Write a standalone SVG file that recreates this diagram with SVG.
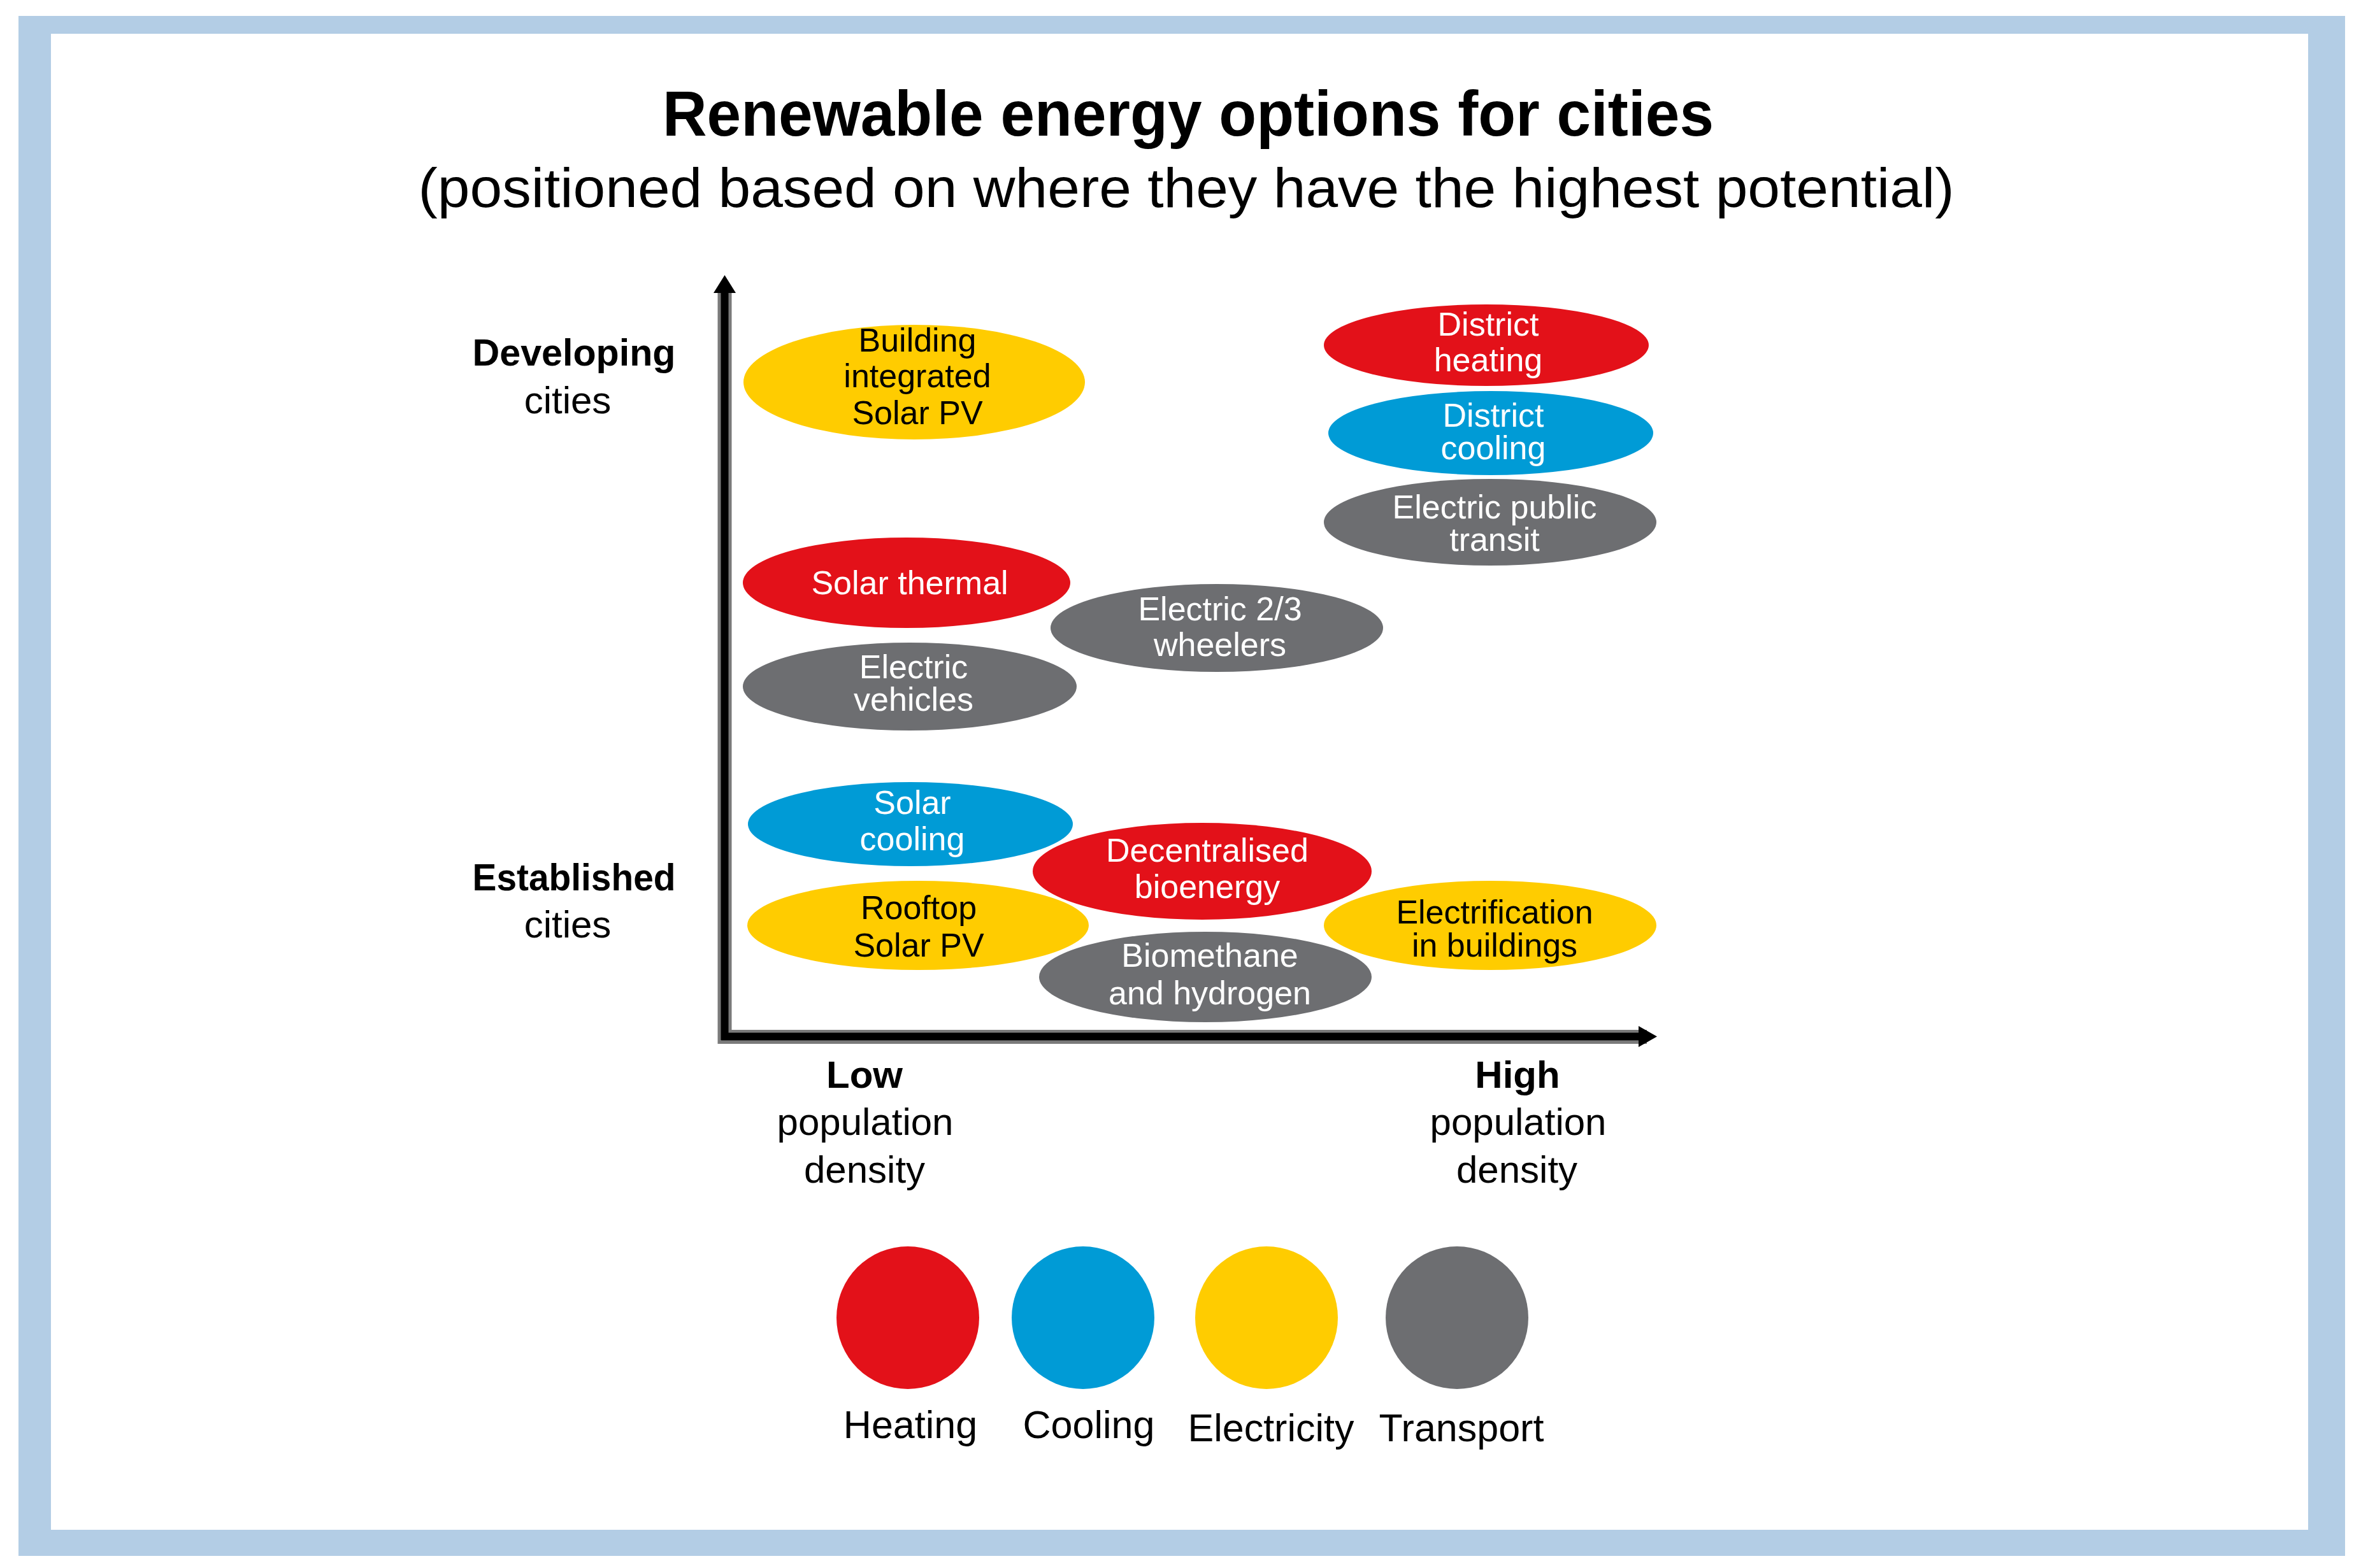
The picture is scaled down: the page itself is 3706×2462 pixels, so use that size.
<svg xmlns="http://www.w3.org/2000/svg" width="3706" height="2462" viewBox="0 0 3706 2462">
<style>
  text { font-family: "Liberation Sans", Arial, sans-serif; text-anchor: middle; }
  .title { font-size: 100px; font-weight: bold; fill: #000; }
  .sub { font-size: 88px; fill: #000; }
  .ax { font-size: 60px; fill: #000; }
  .axb { font-size: 60px; font-weight: bold; fill: #000; }
  .lab { font-size: 52px; }
  .lw { fill: #fff; }
  .lk { fill: #000; }
  .leg { font-size: 61px; fill: #000; }
  .heat { fill: #E31119; }
  .cool { fill: #009BD6; }
  .elec { fill: #FFCC00; }
  .tran { fill: #6D6E71; }
  .axis-under { stroke: #7a7a7a; stroke-width: 22; fill: none; }
  .axis { stroke: #000; stroke-width: 12; fill: none; }
</style>

<rect x="29" y="25" width="3652" height="2418" fill="#B3CDE5"/>
<rect x="80" y="53" width="3543" height="2349" fill="#FFFFFF"/>

<g id="title">
  <text class="title" x="1865" y="213" textLength="1650" lengthAdjust="spacingAndGlyphs">Renewable energy options for cities</text>
  <text class="sub" x="1862" y="325" textLength="2411" lengthAdjust="spacingAndGlyphs">(positioned based on where they have the highest potential)</text>
</g>

<g id="connectors">
  <line class="axis-under" x1="1137.5" y1="452" x2="1137.5" y2="1639"/>
  <line class="axis-under" x1="1127" y1="1628" x2="2585" y2="1628"/>
  <line class="axis" x1="1137.5" y1="452" x2="1137.5" y2="1633"/>
  <line class="axis" x1="1132" y1="1627.5" x2="2585" y2="1627.5"/>
  <polygon points="1137.5,432 1120,460 1155,460" fill="#000"/>
  <polygon points="2601,1627.5 2572,1611 2572,1644" fill="#000"/>
</g>

<g id="axis-labels">
  <text class="axb" x="901" y="574" textLength="319" lengthAdjust="spacingAndGlyphs">Developing</text>
  <text class="ax" x="891" y="649">cities</text>
  <text class="axb" x="901" y="1398" textLength="319" lengthAdjust="spacingAndGlyphs">Established</text>
  <text class="ax" x="891" y="1472">cities</text>
  <text class="axb" x="1357" y="1708">Low</text>
  <text class="ax" x="1358" y="1782">population</text>
  <text class="ax" x="1357" y="1857">density</text>
  <text class="axb" x="2382" y="1708">High</text>
  <text class="ax" x="2383" y="1782">population</text>
  <text class="ax" x="2381" y="1857">density</text>
</g>

<g id="node-building-integrated-solar-pv">
  <ellipse class="elec" cx="1435" cy="600" rx="268" ry="90"/>
  <text class="lab lk" x="1440" y="552">Building</text>
  <text class="lab lk" x="1440" y="608">integrated</text>
  <text class="lab lk" x="1440" y="666">Solar PV</text>
</g>

<g id="node-district-heating">
  <ellipse class="heat" cx="2333" cy="542" rx="255" ry="64"/>
  <text class="lab lw" x="2336" y="527">District</text>
  <text class="lab lw" x="2336" y="583">heating</text>
</g>

<g id="node-district-cooling">
  <ellipse class="cool" cx="2340" cy="680" rx="255" ry="66"/>
  <text class="lab lw" x="2344" y="670">District</text>
  <text class="lab lw" x="2344" y="721">cooling</text>
</g>

<g id="node-electric-public-transit">
  <ellipse class="tran" cx="2339" cy="820" rx="261" ry="68"/>
  <text class="lab lw" x="2346" y="814">Electric public</text>
  <text class="lab lw" x="2346" y="865">transit</text>
</g>

<g id="node-solar-thermal">
  <ellipse class="heat" cx="1423" cy="915" rx="257" ry="71"/>
  <text class="lab lw" x="1428" y="933">Solar thermal</text>
</g>

<g id="node-electric-2-3-wheelers">
  <ellipse class="tran" cx="1910" cy="986" rx="261" ry="69"/>
  <text class="lab lw" x="1915" y="974">Electric 2/3</text>
  <text class="lab lw" x="1915" y="1030">wheelers</text>
</g>

<g id="node-electric-vehicles">
  <ellipse class="tran" cx="1428" cy="1078" rx="262" ry="69"/>
  <text class="lab lw" x="1434" y="1065">Electric</text>
  <text class="lab lw" x="1434" y="1116">vehicles</text>
</g>

<g id="node-solar-cooling">
  <ellipse class="cool" cx="1429" cy="1294" rx="255" ry="66"/>
  <text class="lab lw" x="1432" y="1278">Solar</text>
  <text class="lab lw" x="1432" y="1335">cooling</text>
</g>

<g id="node-rooftop-solar-pv">
  <ellipse class="elec" cx="1441" cy="1453" rx="268" ry="70"/>
  <text class="lab lk" x="1442" y="1443">Rooftop</text>
  <text class="lab lk" x="1442" y="1502">Solar PV</text>
</g>

<g id="node-decentralised-bioenergy">
  <ellipse class="heat" cx="1887" cy="1368" rx="266" ry="76"/>
  <text class="lab lw" x="1895" y="1353">Decentralised</text>
  <text class="lab lw" x="1895" y="1410">bioenergy</text>
</g>

<g id="node-electrification-in-buildings">
  <ellipse class="elec" cx="2339" cy="1453" rx="261" ry="70"/>
  <text class="lab lk" x="2346" y="1450">Electrification</text>
  <text class="lab lk" x="2346" y="1502">in buildings</text>
</g>

<g id="node-biomethane-and-hydrogen">
  <ellipse class="tran" cx="1892" cy="1534" rx="261" ry="71"/>
  <text class="lab lw" x="1899" y="1518">Biomethane</text>
  <text class="lab lw" x="1899" y="1577">and hydrogen</text>
</g>

<g id="legend">
  <g id="legend-heating">
    <circle class="heat" cx="1425" cy="2069" r="112"/>
    <text class="leg" x="1429" y="2258">Heating</text>
  </g>
  <g id="legend-cooling">
    <circle class="cool" cx="1700" cy="2069" r="112"/>
    <text class="leg" x="1709" y="2258">Cooling</text>
  </g>
  <g id="legend-electricity">
    <circle class="elec" cx="1988" cy="2069" r="112"/>
    <text class="leg" x="1995" y="2263">Electricity</text>
  </g>
  <g id="legend-transport">
    <circle class="tran" cx="2287" cy="2069" r="112"/>
    <text class="leg" x="2294" y="2263">Transport</text>
  </g>
</g>
</svg>
